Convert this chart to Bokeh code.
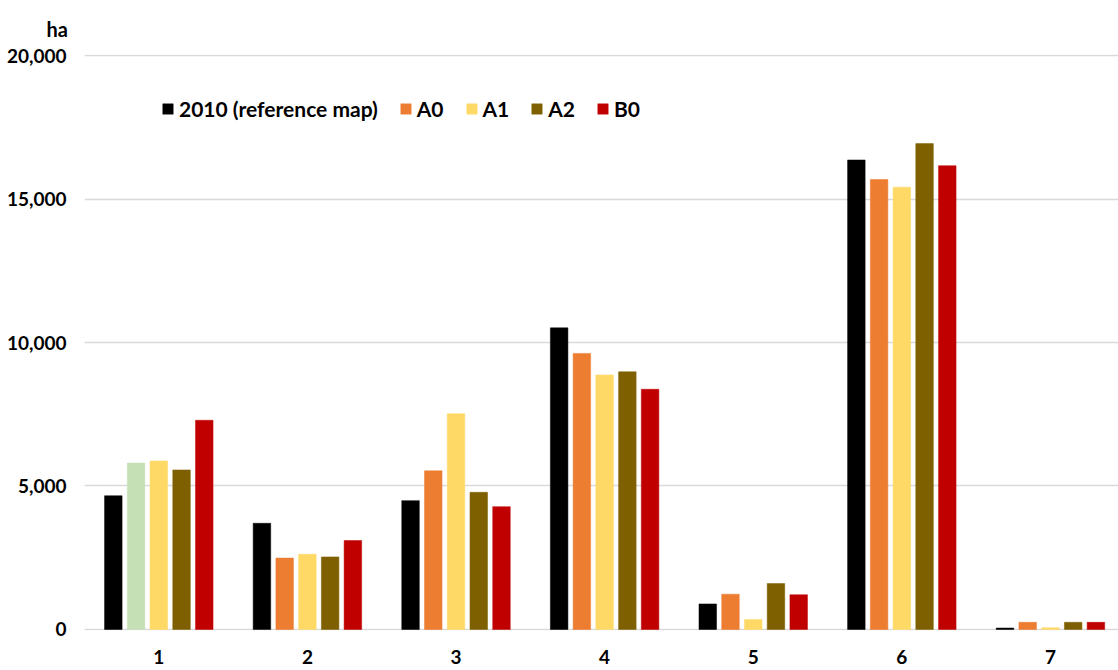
import numpy as np
from bokeh.plotting import figure
from bokeh.models import (ColumnDataSource, FixedTicker, Legend, LegendItem, Title,
                          NumeralTickFormatter, Range1d)
from bokeh.transform import dodge
from bokeh.embed import file_html
from bokeh.resources import INLINE

# ---- data ----
categories = ["1", "2", "3", "4", "5", "6", "7"]
series_names = ["2010 (reference map)", "A0", "A1", "A2", "B0"]
ref_2010 = [4660, 3700, 4490, 10510, 890, 16360, 50]
a0 = [5800, 2490, 5530, 9620, 1230, 15680, 250]
a1 = [5870, 2620, 7520, 8870, 350, 15410, 60]
a2 = [5560, 2530, 4780, 8980, 1600, 16930, 250]
b0 = [7290, 3100, 4280, 8370, 1210, 16160, 250]
y_ticks = [0, 5000, 10000, 15000, 20000]
unit_label = "ha"

series_values = [ref_2010, a0, a1, a2, b0]
series_colors = ["#000000", "#ED7D31", "#FFD966", "#7F6000", "#C00000"]
highlight_color = "#C5E0B4"   # the first A0 bar is drawn light green in the original

FONT = "Lato"
x_pos = list(range(1, len(categories) + 1))

p = figure(width=1118, height=670, output_backend="svg", toolbar_location=None,
           x_range=Range1d(0.5, 7.458), y_range=Range1d(-35, 20035),
           min_border_left=84, min_border_right=0, min_border_top=53,
           min_border_bottom=40)

offsets = [-0.306, -0.153, 0.0, 0.153, 0.306]
bar_w = 0.118
items = []
for i, (name, vals) in enumerate(zip(series_names, series_values)):
    cols = [series_colors[i]] * len(vals)
    if name == "A0":
        cols[0] = highlight_color
    src = ColumnDataSource(dict(x=x_pos, top=vals, color=cols))
    r = p.vbar(x=dodge("x", offsets[i], range=p.x_range), top="top", bottom=0,
               width=bar_w, source=src, fill_color="color", line_color="color",
               line_width=0.5)
    items.append(LegendItem(label=name, renderers=[r], index=1))

legend = Legend(items=items, orientation="horizontal", location=(77, 509),
                glyph_width=13, glyph_height=13, label_standoff=5, spacing=21,
                padding=0, margin=0, border_line_color=None,
                background_fill_alpha=0, label_height=20,
                label_text_font=FONT, label_text_font_style="bold",
                label_text_font_size="21px", label_text_color="#000000")
p.add_layout(legend)

# unit label "ha" above the value axis
p.title = Title(text=unit_label, align="left", offset=-38, standoff=28,
                vertical_align="bottom",
                text_font=FONT, text_font_style="bold",
                text_font_size="20px", text_color="#000000")

# axes
p.xaxis.ticker = FixedTicker(ticks=x_pos)
p.xaxis.major_label_overrides = {x: c for x, c in zip(x_pos, categories)}
p.yaxis.ticker = FixedTicker(ticks=y_ticks)
p.yaxis.formatter = NumeralTickFormatter(format="0,0")
for ax in (p.xaxis, p.yaxis):
    ax.axis_line_color = None
    ax.major_tick_line_color = None
    ax.minor_tick_line_color = None
    ax.major_label_text_font = FONT
    ax.major_label_text_font_style = "bold"
    ax.major_label_text_font_size = "19px"
    ax.major_label_text_color = "#000000"
p.xaxis.major_label_standoff = 13
p.yaxis.major_label_standoff = 12

p.xgrid.grid_line_color = None
p.ygrid.ticker = FixedTicker(ticks=y_ticks)
p.ygrid.grid_line_color = "#D9D9D9"
p.ygrid.grid_line_width = 1.5
p.outline_line_color = None
p.background_fill_color = "#FFFFFF"
p.border_fill_color = "#FFFFFF"

open("out.html", "w").write(file_html(p, INLINE))
